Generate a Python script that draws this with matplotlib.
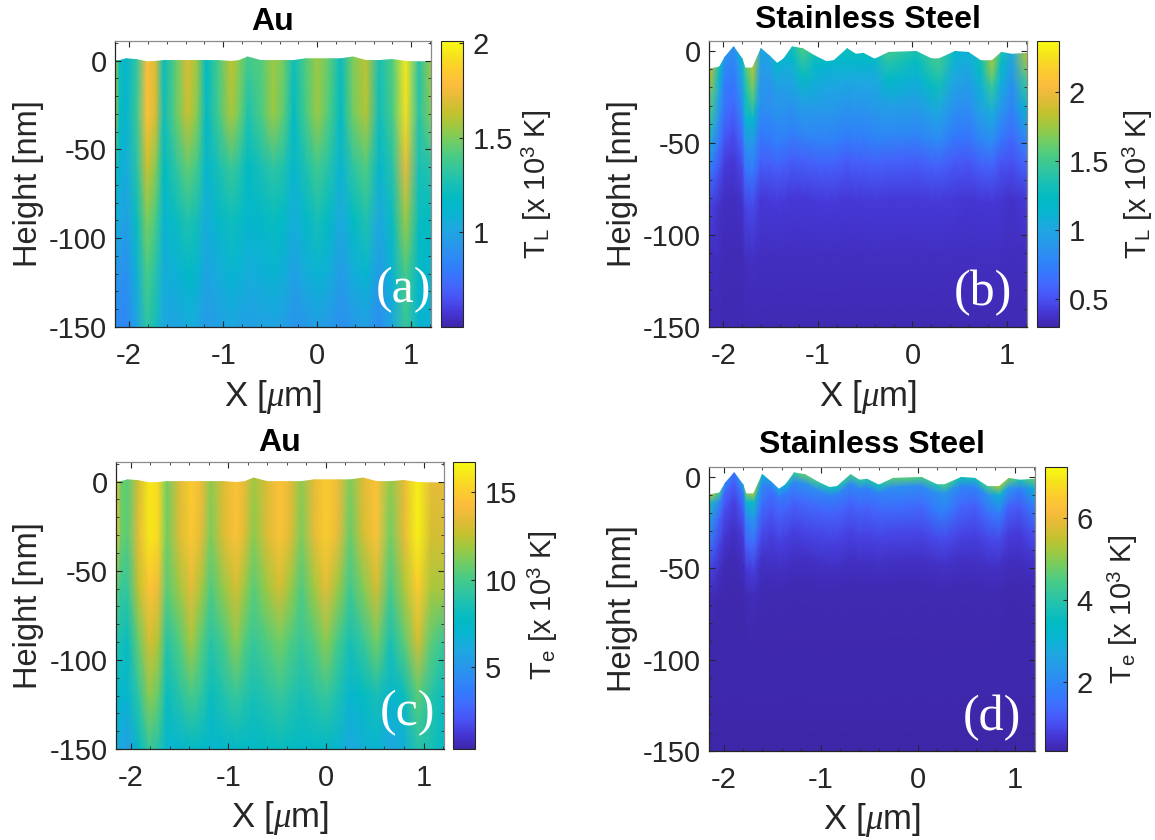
import numpy as np
import matplotlib
matplotlib.use('Agg')
import matplotlib.pyplot as plt
from matplotlib.colors import LinearSegmentedColormap, Normalize

plt.rcParams['font.family'] = ['Liberation Sans', 'DejaVu Sans']
plt.rcParams['mathtext.fontset'] = 'custom'
plt.rcParams['mathtext.rm'] = 'Liberation Sans'
plt.rcParams['mathtext.it'] = 'Liberation Serif:italic'

W, H = 1155, 840

# old matlab parula, thinned out
parula = LinearSegmentedColormap.from_list('parula', [
    (0.2422, 0.1504, 0.6603), (0.2706, 0.2147, 0.8364), (0.2810, 0.3228, 0.9579),
    (0.2602, 0.4123, 0.9952), (0.1963, 0.4847, 0.9892), (0.1764, 0.5499, 0.9520),
    (0.1460, 0.6091, 0.9079), (0.1113, 0.6635, 0.8763), (0.0297, 0.7082, 0.8163),
    (0.0067, 0.7312, 0.7660), (0.0964, 0.7500, 0.7120), (0.1938, 0.7758, 0.6251),
    (0.2906, 0.7973, 0.5188), (0.4456, 0.8024, 0.3909), (0.6181, 0.7862, 0.2612),
    (0.7690, 0.7600, 0.1800), (0.8900, 0.7350, 0.2200), (0.9900, 0.7400, 0.2400),
    (0.9900, 0.8000, 0.1800), (0.9650, 0.8900, 0.1100), (0.9769, 0.9839, 0.0805)], N=256)

# Au columns
x_au = [-2.15, -2.10, -2.03, -1.92, -1.81, -1.72, -1.63, -1.50, -1.38, -1.28,
        -1.18, -1.05, -0.92, -0.83, -0.74, -0.60, -0.47, -0.36, -0.25, -0.12,
        0.00, 0.12, 0.25, 0.38, 0.52, 0.66, 0.80, 0.94, 1.08, 1.21]
surface_au = [0, 0, 1, 0.5, -0.7, -0.5, 0, 0, 0, 0,
              0, 0, -0.5, 0, 2, 0, 0, 0, 0, 1,
              1, 1, 1, 2, 0, 0, 0.6, -0.5, -0.7, -0.7]
depth_au = [0, -30, -60, -90, -120, -150]

tl_au = [
    [1.55, 1.22, 1.12, 1.32, 1.78, 1.68, 1.20, 1.45, 1.68, 1.55, 1.18, 1.40, 1.62, 1.52, 1.38, 1.42, 1.55, 1.48, 1.22, 1.42, 1.55, 1.45, 1.20, 1.50, 1.62, 1.25, 1.42, 1.95, 1.30, 1.55],
    [1.55, 1.20, 1.12, 1.35, 1.80, 1.68, 1.22, 1.45, 1.65, 1.52, 1.17, 1.38, 1.58, 1.48, 1.28, 1.40, 1.55, 1.44, 1.18, 1.40, 1.55, 1.42, 1.18, 1.48, 1.60, 1.22, 1.40, 1.92, 1.30, 1.50],
    [1.25, 1.10, 1.05, 1.30, 1.65, 1.52, 1.18, 1.32, 1.45, 1.38, 1.12, 1.25, 1.35, 1.30, 1.18, 1.25, 1.32, 1.28, 1.12, 1.27, 1.38, 1.30, 1.10, 1.32, 1.42, 1.12, 1.30, 1.72, 1.25, 1.30],
    [1.10, 1.02, 0.98, 1.20, 1.50, 1.40, 1.10, 1.20, 1.28, 1.24, 1.05, 1.15, 1.22, 1.20, 1.12, 1.15, 1.20, 1.17, 1.05, 1.16, 1.25, 1.18, 1.03, 1.18, 1.28, 1.02, 1.20, 1.55, 1.20, 1.18],
    [0.95, 0.92, 0.90, 1.08, 1.40, 1.30, 1.05, 1.08, 1.15, 1.12, 1.00, 1.05, 1.10, 1.09, 1.05, 1.07, 1.10, 1.07, 0.98, 1.05, 1.10, 1.07, 0.95, 1.05, 1.12, 0.95, 1.10, 1.40, 1.15, 1.12],
    [0.90, 0.86, 0.85, 1.00, 1.32, 1.24, 1.02, 1.00, 1.05, 1.03, 0.95, 0.98, 1.02, 1.00, 0.98, 0.99, 1.00, 0.98, 0.92, 0.94, 0.98, 0.95, 0.90, 0.94, 0.98, 0.88, 1.02, 1.35, 1.10, 1.08],
]

te_au = [
    [14.5, 11.0, 10.5, 13.0, 16.0, 15.5, 11.0, 13.2, 15.0, 13.8, 11.5, 13.2, 14.5, 13.5, 11.8, 13.2, 14.5, 13.4, 11.5, 13.5, 15.0, 13.8, 11.2, 13.3, 14.5, 11.5, 13.5, 16.3, 13.5, 13.5],
    [14.5, 11.0, 10.5, 13.5, 16.0, 15.5, 11.0, 13.2, 14.8, 13.5, 11.2, 13.2, 14.5, 13.2, 11.5, 13.2, 14.5, 13.2, 11.2, 13.5, 15.0, 13.6, 10.8, 13.0, 14.5, 11.0, 13.5, 16.3, 13.0, 13.0],
    [11.0, 9.5, 9.5, 12.5, 14.5, 13.8, 10.5, 11.8, 13.5, 12.0, 10.2, 11.6, 13.0, 11.7, 10.5, 11.8, 13.0, 11.7, 10.2, 11.9, 13.5, 11.8, 9.8, 11.3, 13.0, 10.0, 12.0, 15.0, 12.0, 12.0],
    [9.0, 8.5, 8.0, 10.8, 13.0, 12.2, 9.0, 10.3, 12.0, 10.5, 9.0, 10.0, 11.5, 10.3, 9.5, 10.3, 11.0, 10.2, 9.5, 10.3, 11.5, 10.0, 8.5, 9.5, 11.0, 8.5, 10.5, 13.0, 10.5, 9.5],
    [7.5, 7.2, 7.0, 9.2, 11.5, 10.7, 8.0, 9.0, 10.0, 9.3, 8.0, 8.8, 9.5, 9.0, 8.5, 9.0, 9.5, 9.0, 8.5, 9.0, 9.5, 8.7, 7.0, 7.8, 8.5, 7.0, 8.0, 10.5, 9.0, 8.0],
    [6.5, 6.0, 5.5, 7.5, 9.5, 9.0, 7.0, 7.0, 7.5, 7.5, 7.0, 7.2, 7.5, 7.5, 7.5, 7.8, 8.0, 7.8, 7.5, 7.5, 7.5, 7.0, 6.0, 6.5, 7.0, 6.0, 6.5, 9.0, 8.5, 7.5],
]

# Stainless steel columns
x_ss = [-2.15, -2.04, -1.98, -1.89, -1.80, -1.77, -1.69, -1.60, -1.51, -1.43, -1.36,
        -1.27, -1.16, -1.03, -0.91, -0.83, -0.69, -0.60, -0.52, -0.40, -0.25, 0.04,
        0.20, 0.28, 0.45, 0.59, 0.72, 0.84, 0.94, 1.05, 1.21]
surface_ss = [-10, -9, -3.5, 2, -4.5, -9.5, -9.5, 1, -3, -7, -4.5,
              2, 1, -3, -6, -5.5, 1, -2, -1.5, -4.7, -1, -0.5,
              -4.5, -4.5, -0.5, -1, -5.5, -5.5, -1, -2, -1.5]
depth_ss = [0, -5, -15, -30, -45, -60, -80, -110, -150]

tl_ss = [
    [1.90, 1.30, 0.85, 0.85, 1.15, 1.50, 1.80, 1.00, 1.00, 1.20, 1.15, 1.30, 1.55, 1.30, 1.20, 1.20, 1.30, 1.25, 1.25, 1.20, 1.50, 1.35, 1.45, 1.50, 1.15, 1.10, 1.30, 1.75, 1.35, 1.00, 1.80],
    [1.85, 1.15, 0.80, 0.80, 1.05, 1.40, 1.75, 0.95, 0.95, 1.10, 1.05, 1.20, 1.45, 1.20, 1.10, 1.10, 1.20, 1.15, 1.15, 1.10, 1.40, 1.25, 1.40, 1.45, 1.10, 1.05, 1.25, 1.70, 1.25, 0.95, 1.75],
    [1.65, 1.00, 0.72, 0.72, 0.95, 1.30, 1.60, 0.90, 0.88, 0.95, 0.95, 1.05, 1.25, 1.08, 1.00, 1.00, 1.05, 1.02, 1.02, 1.00, 1.20, 1.10, 1.25, 1.30, 1.00, 0.95, 1.10, 1.45, 1.10, 0.85, 1.50],
    [1.45, 0.82, 0.65, 0.62, 0.80, 1.10, 1.20, 0.85, 0.82, 0.85, 0.85, 0.88, 0.95, 0.90, 0.88, 0.88, 0.88, 0.88, 0.88, 0.88, 0.95, 0.92, 0.98, 1.00, 0.85, 0.82, 0.95, 1.05, 0.90, 0.75, 1.15],
    [1.05, 0.65, 0.52, 0.50, 0.62, 0.85, 0.90, 0.72, 0.72, 0.74, 0.74, 0.76, 0.80, 0.78, 0.76, 0.76, 0.76, 0.76, 0.76, 0.76, 0.80, 0.78, 0.80, 0.82, 0.72, 0.70, 0.78, 0.82, 0.72, 0.62, 0.85],
    [0.72, 0.50, 0.42, 0.42, 0.48, 0.65, 0.72, 0.58, 0.56, 0.56, 0.56, 0.57, 0.58, 0.57, 0.56, 0.56, 0.56, 0.56, 0.56, 0.56, 0.57, 0.56, 0.57, 0.58, 0.55, 0.53, 0.56, 0.58, 0.52, 0.50, 0.62],
    [0.46, 0.38, 0.36, 0.36, 0.38, 0.46, 0.48, 0.42, 0.42, 0.42, 0.42, 0.42, 0.42, 0.42, 0.42, 0.42, 0.42, 0.42, 0.42, 0.42, 0.42, 0.42, 0.42, 0.42, 0.42, 0.40, 0.40, 0.41, 0.40, 0.38, 0.42],
    [0.36, 0.35, 0.34, 0.34, 0.34, 0.36, 0.37, 0.36, 0.36, 0.36, 0.36, 0.36, 0.36, 0.36, 0.36, 0.36, 0.36, 0.36, 0.36, 0.36, 0.36, 0.36, 0.36, 0.36, 0.36, 0.36, 0.36, 0.36, 0.36, 0.35, 0.36],
    [0.33, 0.33, 0.33, 0.33, 0.33, 0.33, 0.33, 0.33, 0.33, 0.33, 0.33, 0.33, 0.33, 0.33, 0.33, 0.33, 0.33, 0.33, 0.33, 0.33, 0.33, 0.33, 0.33, 0.33, 0.33, 0.33, 0.33, 0.33, 0.33, 0.33, 0.33],
]

te_ss = [
    [5.60, 4.20, 1.90, 1.60, 2.60, 4.70, 5.30, 3.20, 2.20, 2.70, 3.00, 4.20, 4.70, 4.20, 3.70, 3.70, 4.40, 4.00, 4.00, 3.70, 4.60, 4.50, 3.90, 4.50, 3.70, 3.70, 4.30, 5.20, 4.90, 3.80, 4.70],
    [3.80, 2.00, 1.30, 1.20, 1.70, 3.00, 3.60, 2.00, 1.50, 1.60, 1.70, 2.00, 2.20, 2.00, 1.80, 1.80, 2.00, 1.90, 1.90, 1.80, 2.10, 2.00, 2.10, 2.30, 1.90, 1.80, 2.20, 3.00, 2.40, 1.70, 3.00],
    [2.50, 1.20, 0.90, 0.80, 1.10, 1.90, 2.30, 1.50, 1.10, 1.20, 1.20, 1.30, 1.40, 1.30, 1.25, 1.25, 1.30, 1.30, 1.30, 1.30, 1.50, 1.40, 1.70, 1.80, 1.35, 1.20, 1.50, 1.80, 1.30, 1.10, 1.80],
    [1.60, 0.80, 0.60, 0.55, 0.70, 1.20, 1.40, 0.95, 0.75, 0.78, 0.78, 0.80, 0.85, 0.82, 0.80, 0.80, 0.82, 0.82, 0.82, 0.82, 0.85, 0.85, 0.90, 0.95, 0.85, 0.80, 0.85, 0.90, 0.75, 0.70, 1.00],
    [0.80, 0.50, 0.42, 0.42, 0.48, 0.65, 0.75, 0.55, 0.52, 0.52, 0.52, 0.52, 0.54, 0.54, 0.54, 0.54, 0.54, 0.54, 0.54, 0.54, 0.54, 0.54, 0.54, 0.56, 0.54, 0.52, 0.54, 0.54, 0.50, 0.48, 0.58],
    [0.45, 0.38, 0.36, 0.36, 0.38, 0.42, 0.46, 0.42, 0.40, 0.40, 0.40, 0.40, 0.40, 0.40, 0.40, 0.40, 0.40, 0.40, 0.40, 0.40, 0.40, 0.40, 0.40, 0.40, 0.40, 0.40, 0.40, 0.40, 0.38, 0.38, 0.42],
    [0.36, 0.35, 0.35, 0.35, 0.35, 0.36, 0.36, 0.36, 0.36, 0.36, 0.36, 0.36, 0.36, 0.36, 0.36, 0.36, 0.36, 0.36, 0.36, 0.36, 0.36, 0.36, 0.36, 0.36, 0.36, 0.36, 0.36, 0.36, 0.35, 0.35, 0.36],
    [0.33, 0.33, 0.33, 0.33, 0.33, 0.33, 0.33, 0.33, 0.33, 0.33, 0.33, 0.33, 0.33, 0.33, 0.33, 0.33, 0.33, 0.33, 0.33, 0.33, 0.33, 0.33, 0.33, 0.33, 0.33, 0.33, 0.33, 0.33, 0.33, 0.33, 0.33],
    [0.32, 0.32, 0.32, 0.32, 0.32, 0.32, 0.32, 0.32, 0.32, 0.32, 0.32, 0.32, 0.32, 0.32, 0.32, 0.32, 0.32, 0.32, 0.32, 0.32, 0.32, 0.32, 0.32, 0.32, 0.32, 0.32, 0.32, 0.32, 0.32, 0.32, 0.32],
]

titles = ['Au', 'Stainless Steel', 'Au', 'Stainless Steel']
letters = ['(a)', '(b)', '(c)', '(d)']
cb_labels = ['T$_{\\mathrm{L}}$ [x 10$^{3}$ K]', 'T$_{\\mathrm{L}}$ [x 10$^{3}$ K]',
             'T$_{\\mathrm{e}}$ [x 10$^{3}$ K]', 'T$_{\\mathrm{e}}$ [x 10$^{3}$ K]']
cb_ticks = [[1, 1.5, 2], [0.5, 1, 1.5, 2], [5, 10, 15], [2, 4, 6]]
cb_ticklabels = [['1', '1.5', '2'], ['0.5', '1', '1.5', '2'], ['5', '10', '15'], ['2', '4', '6']]
clims = [(0.5, 2.01), (0.3, 2.37), (0.35, 16.7), (0.3, 7.25)]
ytops = [11, 5.2, 11, 5.2]

# pixel boxes left, right, top, bottom
ax_box = [(115, 431, 41, 327), (709, 1027, 41, 327), (116, 444, 462, 749), (709, 1035, 467, 751)]
cb_box = [(441, 463, 41, 327), (1037, 1059, 41, 327), (453, 475, 462, 749), (1045, 1067, 467, 751)]
letter_xy = [(403, 290), (983, 293), (407, 713), (992, 718)]
# label centres in pixels
xlabel_y = [397, 397, 818, 820]
ylabel_x = [29, 623, 29, 623]
cblabel_x = [537, 1138, 543, 1123]
title_pad = [8, 9, 8, 10]


def px_axes(box):
    l, r, t, b = box
    return fig.add_axes([l / W, 1 - b / H, (r - l) / W, (b - t) / H])


fig = plt.figure(figsize=(W / 100, H / 100), dpi=100)

panels = [(x_au, surface_au, depth_au, tl_au), (x_ss, surface_ss, depth_ss, tl_ss),
          (x_au, surface_au, depth_au, te_au), (x_ss, surface_ss, depth_ss, te_ss)]

for i, (xs, surf, depth, vals) in enumerate(panels):
    ax = px_axes(ax_box[i])
    l, r, t, b = ax_box[i]
    x = np.array(xs)
    s = np.array(surf, dtype=float)
    d = np.array(depth, dtype=float)
    # rows hang from the surface and flatten out to -150 at the bottom
    X = np.tile(x, (len(d), 1))
    Y = np.array([dd + s * (1 + dd / 150) for dd in d])
    norm = Normalize(*clims[i])
    m = ax.pcolormesh(X, Y, np.array(vals), shading='gouraud', cmap=parula, norm=norm, rasterized=True)
    ax.set_xlim(-2.15, 1.21)
    ax.set_ylim(-150, ytops[i])
    ax.set_xticks([-2, -1, 0, 1])
    ax.set_yticks([-150, -100, -50, 0])
    ax.set_xticklabels(['-2', '-1', '0', '1'])
    ax.set_yticklabels(['-150', '-100', '-50', '0'])
    ax.set_xticks(np.arange(-2.0, 1.21, 0.2), minor=True)
    ax.set_yticks(np.arange(-150, ytops[i], 10), minor=True)
    ax.tick_params(axis='both', which='major', direction='in', top=True, right=True,
                   length=4, width=0.8, labelsize=21, color='#262626', labelcolor='#262626')
    ax.tick_params(axis='x', which='major', pad=11)
    ax.tick_params(axis='y', which='major', pad=6)
    ax.tick_params(axis='both', which='minor', direction='in', top=True, right=True,
                   length=2, width=0.6, color='#262626')
    for name, sp in ax.spines.items():
        sp.set_linewidth(0.9)
        sp.set_color('#262626' if name in ('left', 'bottom') else '#8a8a8a')
    ax.set_xlabel('X [$\\mu$m]', fontsize=25, color='#262626', va='center')
    ax.set_ylabel('Height [nm]', fontsize=23.5, color='#262626', va='center')
    ax.xaxis.set_label_coords(0.5, -(xlabel_y[i] - b) / (b - t))
    ax.yaxis.set_label_coords((ylabel_x[i] - l) / (r - l), 0.5)
    ax.set_title(titles[i], fontsize=23, fontweight='bold', pad=title_pad[i])

    cax = px_axes(cb_box[i])
    cb = fig.colorbar(m, cax=cax)
    cb.set_ticks(cb_ticks[i])
    cb.set_ticklabels(cb_ticklabels[i])
    cb.ax.tick_params(direction='in', length=3, width=0.8, labelsize=21, color='#262626',
                      labelcolor='#262626', pad=7)
    cb.outline.set_linewidth(0.8)
    cb.outline.set_edgecolor('#262626')
    cb.set_label(cb_labels[i], fontsize=21, color='#262626', va='center')
    cl, cr, ct, cbt = cb_box[i]
    cb.ax.yaxis.set_label_coords((cblabel_x[i] - cl) / (cr - cl), 0.5)

    fig.text(letter_xy[i][0] / W, 1 - letter_xy[i][1] / H, letters[i], color='white',
             fontsize=36, family='Liberation Serif', ha='center', va='center')

fig.savefig('out.png', dpi=100)
